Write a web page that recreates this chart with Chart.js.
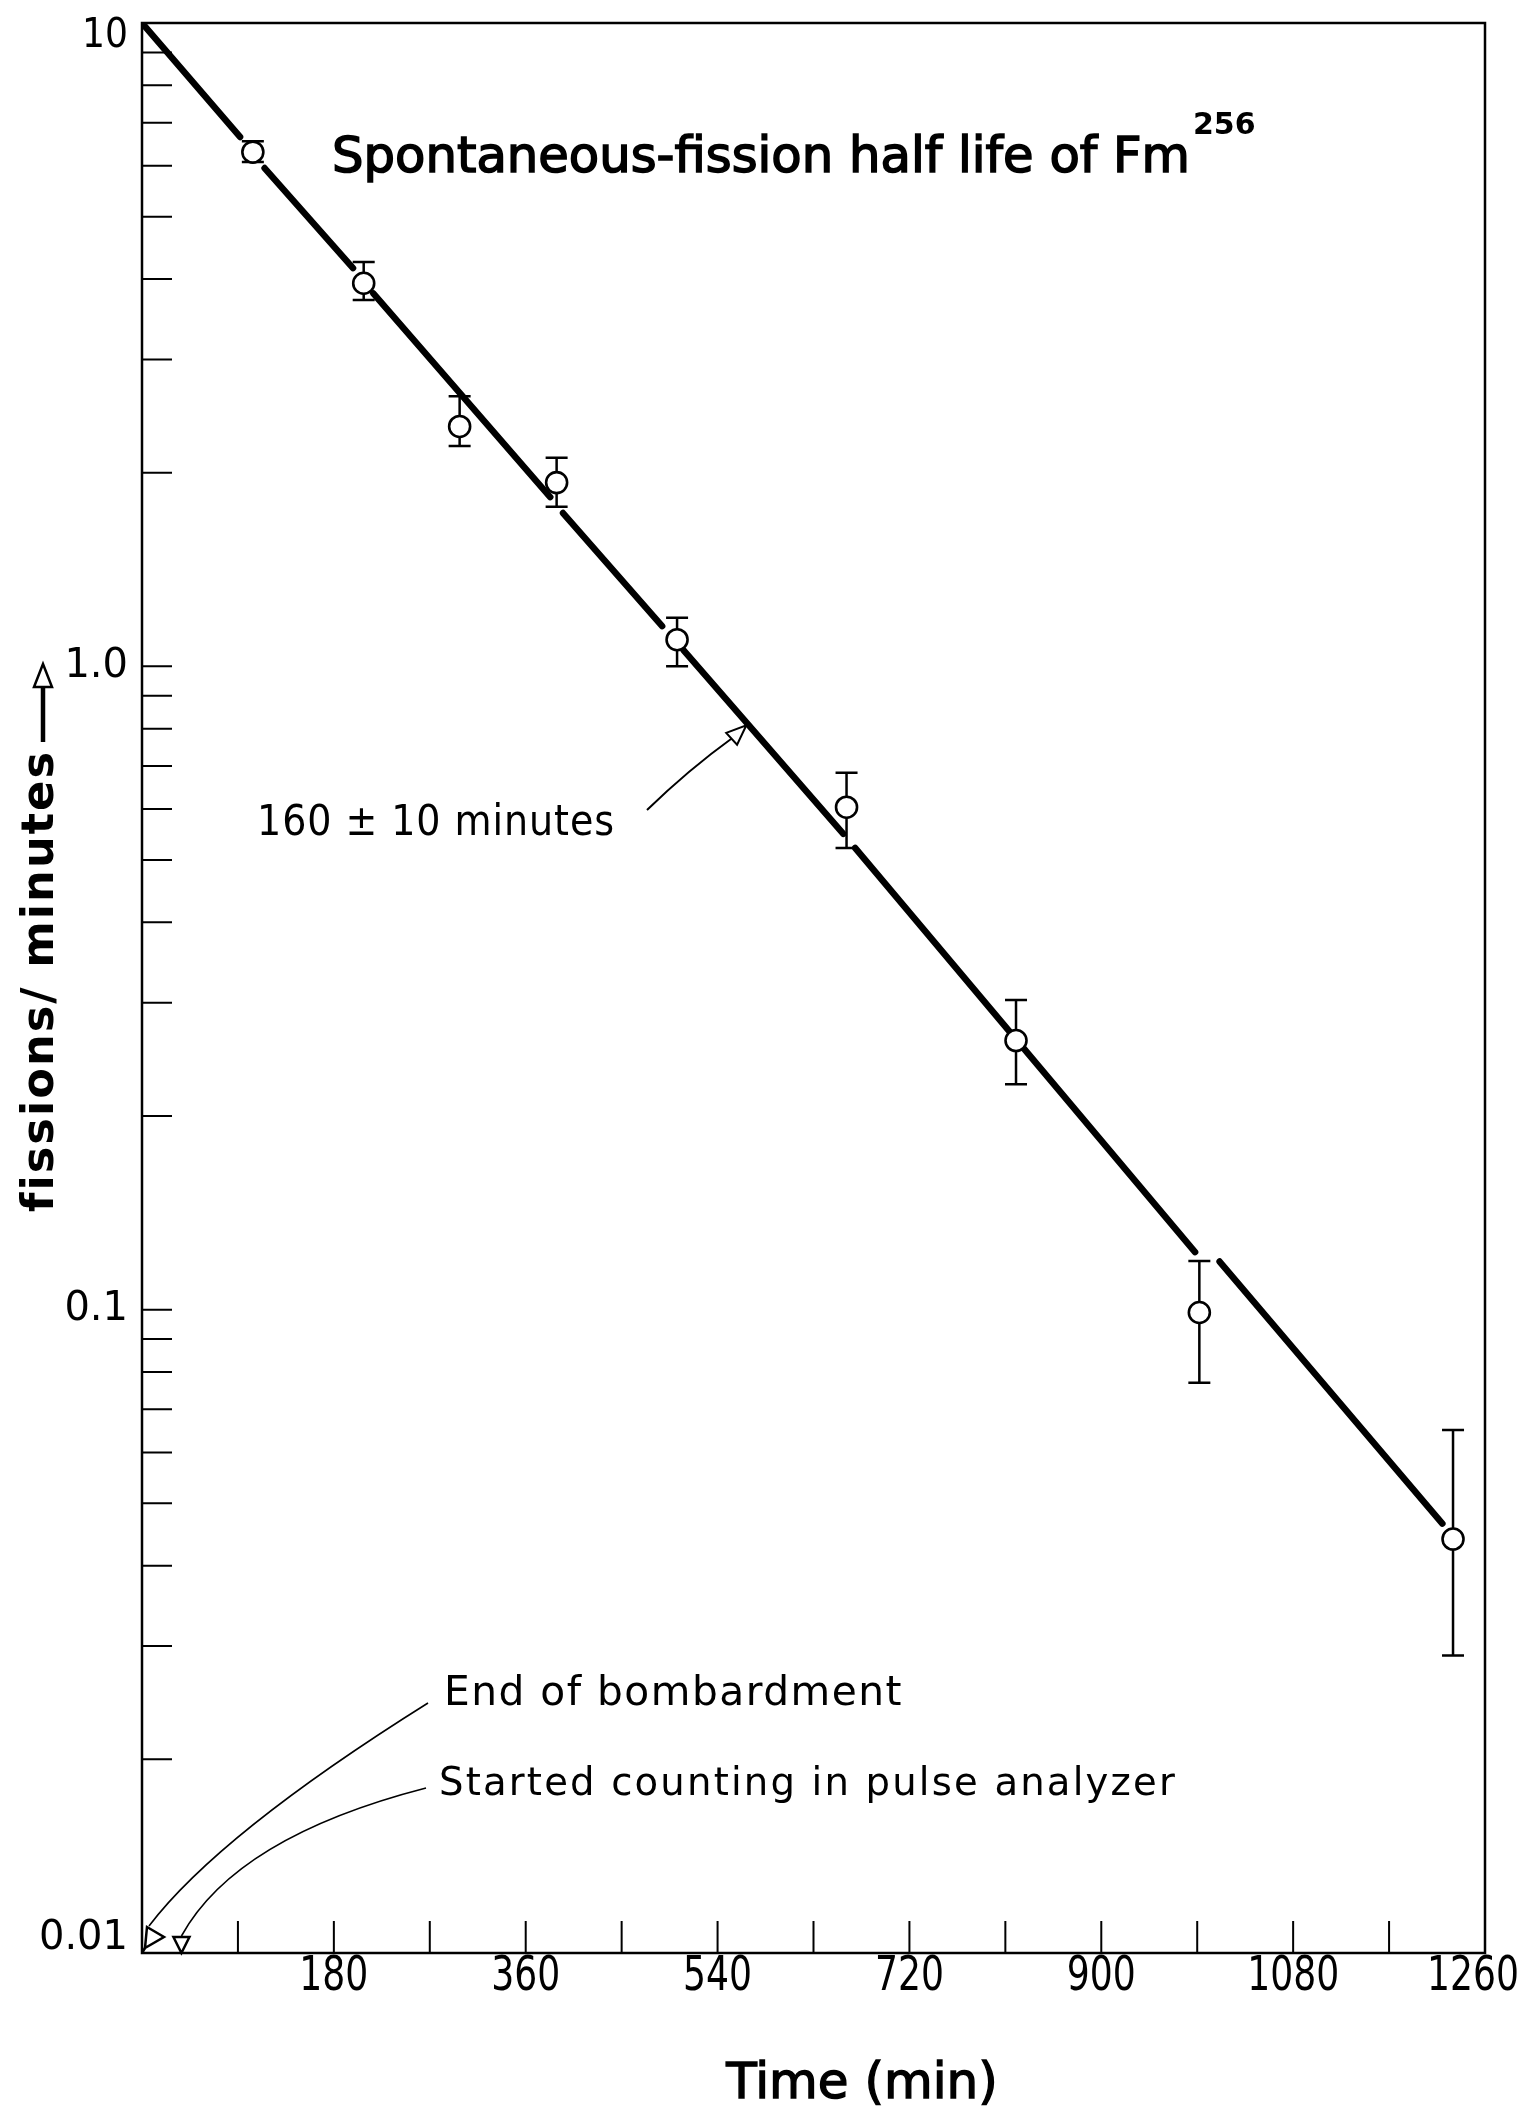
<!DOCTYPE html>
<html>
<head>
<meta charset="utf-8">
<title>Spontaneous-fission half life of Fm256</title>
<script src="https://cdn.jsdelivr.net/npm/chart.js@4.4.0/dist/chart.umd.min.js"></script>
<style>
  html, body { margin: 0; padding: 0; background: #fff; }
  #wrap { width: 1529px; height: 2118px; }
</style>
</head>
<body>
<div id="wrap"><canvas id="decayChart" width="1529" height="2118"></canvas></div>
<script>
// Measured points: time after bombardment (min) and fissions/minute
const times   = [104, 208, 298, 389, 502, 661, 820, 992, 1230];
const rates   = [6.30, 3.94, 2.36, 1.93, 1.10, 0.604, 0.262, 0.099, 0.044];
const errHigh = [6.55, 4.25, 2.63, 2.11, 1.19, 0.683, 0.303, 0.119, 0.065];
const errLow  = [6.08, 3.71, 2.20, 1.77, 1.00, 0.522, 0.224, 0.077, 0.029];

// Hand drawn fit line, broken where it runs past the circles (null = gap)
const fitTimes = [0, 92, 92, 115, 198, 198, 217, 383, 383, 395, 488, 488, 508, 658, 658, 669, 988, 988, 1011, 1220];
const fitRates = [10, 6.65, null, 5.95, 4.16, null, 3.80, 1.833, null, 1.731, 1.155, null, 1.060, 0.549, null, 0.522, 0.1229, null, 0.1188, 0.0465];

// Axis ticks and labels
const xTicks = [90, 180, 270, 360, 450, 540, 630, 720, 810, 900, 990, 1080, 1170];
const xLabels = ['180', '360', '540', '720', '900', '1080', '1260'];
const xLabelValues = [180, 360, 540, 720, 900, 1080, 1260];
const yTicks = [0.02, 0.03, 0.04, 0.05, 0.06, 0.07, 0.08, 0.09, 0.1,
                0.2, 0.3, 0.4, 0.5, 0.6, 0.7, 0.8, 0.9, 1,
                2, 3, 4, 5, 6, 7, 8, 9];
const yLabels = ['10', '1.0', '0.1', '0.01'];
const yLabelValues = [10, 1, 0.1, 0.01];

// Markers at the start of the time axis
const markerEnd = 0;      // end of bombardment
const markerStart = 37;   // counting started
const arrowTarget = { x: 567, y: 0.81 };  // where the half-life arrow touches the line

const FONT = '"DejaVu Sans", "Liberation Sans", sans-serif';

function hollowHead(c, tipX, tipY, ang, len, halfW) {
    const bx = tipX - Math.cos(ang) * len, by = tipY - Math.sin(ang) * len;
    const px = -Math.sin(ang) * halfW, py = Math.cos(ang) * halfW;
    c.beginPath();
    c.moveTo(tipX, tipY);
    c.lineTo(bx + px, by + py);
    c.lineTo(bx - px, by - py);
    c.closePath();
    c.fillStyle = '#fff';
    c.fill();
    c.stroke();
}

// text with a light outline so it reads like the inked lettering
function inked(c, text, x, y, maxW, weight) {
    c.fillText(text, x, y, maxW);
    if (weight) {
        c.lineWidth = weight;
        c.strokeText(text, x, y, maxW);
    }
}

const paperPlugin = {
    id: 'paper',
    beforeDraw(chart) {
        const c = chart.ctx;
        c.save();
        c.fillStyle = '#fff';
        c.fillRect(0, 0, chart.width, chart.height);
        c.restore();
    },
    beforeDatasetsDraw(chart) {
        // error bars under the circles
        const c = chart.ctx, xs = chart.scales.x, ys = chart.scales.y;
        c.save();
        c.strokeStyle = '#000';
        c.lineWidth = 2.5;
        times.forEach((t, i) => {
            const x = xs.getPixelForValue(t);
            const yTop = ys.getPixelForValue(errHigh[i]);
            const yBot = ys.getPixelForValue(errLow[i]);
            c.beginPath();
            c.moveTo(x, yTop); c.lineTo(x, yBot);
            c.moveTo(x - 11, yTop); c.lineTo(x + 11, yTop);
            c.moveTo(x - 11, yBot); c.lineTo(x + 11, yBot);
            c.stroke();
        });
        c.restore();
    },
    afterDraw(chart) {
        const c = chart.ctx, a = chart.chartArea, xs = chart.scales.x, ys = chart.scales.y;
        c.save();
        c.strokeStyle = '#000';
        c.fillStyle = '#000';

        // frame
        c.lineWidth = 2.5;
        c.strokeRect(a.left, a.top, a.right - a.left, a.bottom - a.top);

        // inward ticks
        c.lineWidth = 2;
        c.beginPath();
        ys.ticks.forEach(tk => {
            const y = ys.getPixelForValue(tk.value);
            c.moveTo(a.left, y); c.lineTo(a.left + 30, y);
        });
        xs.ticks.forEach(tk => {
            const x = xs.getPixelForValue(tk.value);
            c.moveTo(x, a.bottom); c.lineTo(x, a.bottom - 32);
        });
        c.stroke();

        // tick labels
        c.font = '40px ' + FONT;
        c.textAlign = 'right';
        c.textBaseline = 'middle';
        yLabelValues.forEach((v, i) => {
            let y = ys.getPixelForValue(v);
            y = Math.min(Math.max(y, a.top + 14), a.bottom - 14);
            c.fillText(yLabels[i], a.left - 14, y, yLabels[i].length * 23);
        });
        c.font = '48px ' + FONT;
        c.textAlign = 'center';
        xLabelValues.forEach((v, i) => {
            const x = Math.min(xs.getPixelForValue(v), a.right - 12);
            c.fillText(xLabels[i], x, a.bottom + 25, xLabels[i].length * 23);
        });

        // axis titles
        c.font = '50px ' + FONT;
        c.textAlign = 'center';
        c.textBaseline = 'alphabetic';
        inked(c, 'Time (min)', 862, 2098, 288, 1.4);

        c.save();
        c.translate(53, 1212);
        c.rotate(-Math.PI / 2);
        c.font = 'bold 45px ' + FONT;
        c.letterSpacing = '2px';
        c.textAlign = 'left';
        c.fillText('fissions/ minutes', 0, 0, 462);
        c.restore();
        c.lineWidth = 4.5;
        c.beginPath();
        c.moveTo(43, 742); c.lineTo(43, 688);
        c.stroke();
        c.lineWidth = 2.5;
        hollowHead(c, 43, 664, -Math.PI / 2, 23, 9);

        // title
        c.fillStyle = '#000';
        c.strokeStyle = '#000';
        c.font = '50px ' + FONT;
        c.textAlign = 'left';
        inked(c, 'Spontaneous-fission half life of Fm', 332, 172, 858, 1.6);
        c.font = 'bold 30px ' + FONT;
        c.fillText('256', 1193, 134, 70);

        // half-life annotation
        c.font = '42px ' + FONT;
        c.letterSpacing = '1px';
        c.fillText('160 \u00b1 10 minutes', 257, 835, 358);
        c.letterSpacing = '0px';
        const tx = xs.getPixelForValue(arrowTarget.x), ty = ys.getPixelForValue(arrowTarget.y);
        c.lineWidth = 2;
        c.beginPath();
        c.moveTo(647, 810);
        c.quadraticCurveTo(688, 770, tx - 13, ty + 12);
        c.stroke();
        hollowHead(c, tx, ty, Math.atan2(-12, 13), 20, 8);

        // bombardment / counting notes
        c.fillStyle = '#000';
        c.font = '41px ' + FONT;
        c.letterSpacing = '1.5px';
        c.fillText('End of bombardment', 444, 1705, 459);
        c.font = '39px ' + FONT;
        c.letterSpacing = '2.2px';
        c.fillText('Started counting in pulse analyzer', 439, 1795, 738);
        c.letterSpacing = '0px';

        const m1 = xs.getPixelForValue(markerEnd), m2 = xs.getPixelForValue(markerStart);
        const yb = a.bottom;
        c.lineWidth = 1.6;
        c.beginPath();
        c.moveTo(428, 1703);
        c.quadraticCurveTo(219, 1834, m1 + 7, yb - 27);
        c.moveTo(426, 1788);
        c.quadraticCurveTo(236, 1837, m2, yb - 17);
        c.stroke();

        c.lineWidth = 2.5;
        c.fillStyle = '#fff';
        c.beginPath();
        c.moveTo(m1 + 5, yb - 26); c.lineTo(m1 + 22, yb - 16); c.lineTo(m1 + 3, yb - 5);
        c.closePath(); c.fill(); c.stroke();
        c.beginPath();
        c.moveTo(m1 + 3, yb - 5); c.lineTo(m1, yb);
        c.stroke();
        c.beginPath();
        c.moveTo(m2 - 8, yb - 16); c.lineTo(m2 + 8, yb - 16); c.lineTo(m2, yb);
        c.closePath(); c.fill(); c.stroke();

        c.restore();
    }
};

const ctx = document.getElementById('decayChart').getContext('2d');

const decayChart = new Chart(ctx, {
    type: 'scatter',
    data: {
        datasets: [{
            label: 'Fm-256 spontaneous fission',
            data: times.map((t, i) => ({ x: t, y: rates[i] })),
            pointRadius: 10.5,
            pointBorderWidth: 2.6,
            pointBackgroundColor: '#fff',
            pointBorderColor: '#000',
            showLine: false
        },
        {
            label: '160 min half life',
            type: 'line',
            data: fitTimes.map((t, i) => ({ x: t, y: fitRates[i] })),
            borderColor: '#000',
            borderWidth: 6.5,
            borderCapStyle: 'round',
            pointRadius: 0,
            spanGaps: false,
            tension: 0
        }]
    },
    options: {
        responsive: false,
        animation: false,
        events: [],
        layout: { padding: { left: 142, top: 23, right: 44, bottom: 165 } },
        plugins: {
            legend: { display: false },
            tooltip: { enabled: false }
        },
        scales: {
            x: {
                type: 'linear',
                min: 0,
                max: 1260,
                display: false,
                afterBuildTicks: scale => { scale.ticks = xTicks.map(v => ({ value: v })); }
            },
            y: {
                type: 'logarithmic',
                min: 0.01,
                max: 10,
                display: false,
                afterBuildTicks: scale => { scale.ticks = yTicks.map(v => ({ value: v })); }
            }
        }
    },
    plugins: [paperPlugin]
});
</script>
</body>
</html>
